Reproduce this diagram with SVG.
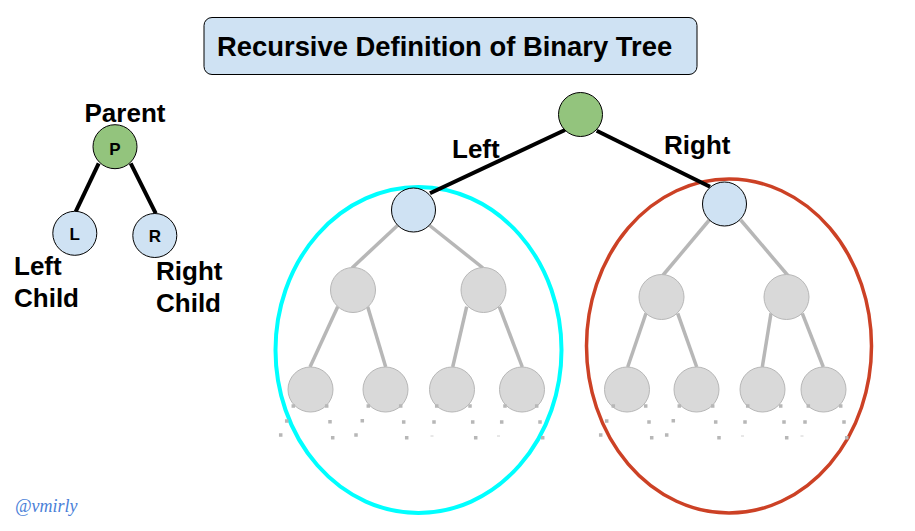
<svg xmlns="http://www.w3.org/2000/svg" width="915" height="531" viewBox="0 0 915 531">
<style>
.lbl{font-family:"Liberation Sans",Arial,sans-serif;font-weight:bold;font-size:26px;fill:#000}
.ttl{font-family:"Liberation Sans",Arial,sans-serif;font-weight:bold;font-size:27.4px;fill:#000}
.nl{font-family:"Liberation Sans",Arial,sans-serif;font-weight:bold;font-size:17px;fill:#000;text-anchor:middle}
.blk{stroke:#000;stroke-width:4;fill:none}
.gry{stroke:#b7b7b7;stroke-width:3.5;fill:none}
.gn{fill:#d9d9d9;stroke:#b7b7b7;stroke-width:1}
.bn{fill:#cfe2f3;stroke:#000;stroke-width:1}
.grn{fill:#93c47d;stroke:#000;stroke-width:1}
</style>
<rect width="915" height="531" fill="#fff"/>
<g id="title">
<rect x="204" y="17.5" width="493" height="57" rx="8" fill="#cfe2f3" stroke="#000" stroke-width="1"/>
<text class="ttl" x="217" y="56">Recursive Definition of Binary Tree</text>
</g>
<g id="ellipses" fill="none">
<ellipse id="left-subtree" cx="418.5" cy="350" rx="143" ry="163" stroke="#00ffff" stroke-width="4"/>
<ellipse id="right-subtree" cx="729" cy="346" rx="142.5" ry="167" stroke="#cc4125" stroke-width="3.5"/>
</g>
<g id="connectors">
<line class="blk" x1="98.7" y1="163.3" x2="75.7" y2="211.7"/>
<line class="blk" x1="130.7" y1="163.3" x2="155.7" y2="213.3"/>
<line class="blk" x1="565" y1="130" x2="430" y2="193.3"/>
<line class="blk" x1="596.7" y1="130.7" x2="710" y2="186.7"/>
<line class="gry" x1="398" y1="225" x2="352" y2="268"/>
<line class="gry" x1="429" y1="225" x2="483" y2="268"/>
<line class="gry" x1="337.7" y1="306.7" x2="310" y2="367"/>
<line class="gry" x1="367.7" y1="306.7" x2="385.7" y2="367"/>
<line class="gry" x1="466.7" y1="306.7" x2="452.7" y2="367"/>
<line class="gry" x1="499.3" y1="306.7" x2="522.3" y2="367"/>
<line class="gry" x1="709.3" y1="220" x2="662.3" y2="276"/>
<line class="gry" x1="740.7" y1="220" x2="788.3" y2="276"/>
<line class="gry" x1="646" y1="313.3" x2="627.7" y2="367"/>
<line class="gry" x1="677.7" y1="313.3" x2="696.7" y2="367"/>
<line class="gry" x1="771" y1="313.3" x2="762.3" y2="367"/>
<line class="gry" x1="802.3" y1="313.3" x2="823.3" y2="367"/>
</g>
<g id="mini-tree">
<g id="node-P"><circle class="grn" cx="115" cy="146.7" r="22"/><text class="nl" x="115" y="155">P</text></g>
<g id="node-L"><circle class="bn" cx="74.8" cy="233.3" r="22"/><text class="nl" x="74.8" y="240">L</text></g>
<g id="node-R"><circle class="bn" cx="154.8" cy="235.5" r="22"/><text class="nl" x="154.8" y="242.3">R</text></g>
<text class="lbl" x="125" y="122" text-anchor="middle">Parent</text>
<text class="lbl" x="14" y="275">Left</text>
<text class="lbl" x="14" y="307">Child</text>
<text class="lbl" x="156" y="280">Right</text>
<text class="lbl" x="156" y="312">Child</text>
</g>
<g id="big-tree">
<g id="root"><circle class="grn" cx="580.5" cy="114.5" r="22"/></g>
<text class="lbl" x="452" y="158">Left</text>
<text class="lbl" x="664" y="154">Right</text>
<g id="left-child"><circle class="bn" cx="413.5" cy="210" r="22"/></g>
<g id="right-child"><circle class="bn" cx="724.5" cy="204" r="22"/></g>
<g id="left-level2">
<circle class="gn" cx="353" cy="290" r="22.5"/>
<circle class="gn" cx="483.5" cy="290" r="22.5"/>
</g>
<g id="right-level2">
<circle class="gn" cx="661.5" cy="297" r="22.5"/>
<circle class="gn" cx="786.5" cy="297" r="22.5"/>
</g>
<g id="left-level3">
<circle class="gn" cx="310.5" cy="389.5" r="22.5"/>
<circle class="gn" cx="385.5" cy="389.5" r="22.5"/>
<circle class="gn" cx="452" cy="389.5" r="22.5"/>
<circle class="gn" cx="522" cy="389.5" r="22.5"/>
</g>
<g id="right-level3">
<circle class="gn" cx="627" cy="389.5" r="22.5"/>
<circle class="gn" cx="696.5" cy="389.5" r="22.5"/>
<circle class="gn" cx="762.5" cy="389.5" r="22.5"/>
<circle class="gn" cx="823.5" cy="389.5" r="22.5"/>
</g>
<g id="continuation-dots">
<path stroke="#b7b7b7" stroke-width="3.5" stroke-linecap="square" fill="none" d="
M293.3 406h0.01M286.7 421h0.01M280.7 435h0.01M326.7 406h0.01M330 421.7h0.01M332.7 437.7h0.01
M368.3 406h0.01M362.3 420.7h0.01M356 435h0.01M400.7 406h0.01M403.7 422h0.01M406.7 437.7h0.01
M436.7 406h0.01M434 422h0.01M470 406h0.01M472.7 422h0.01M475.7 437.7h0.01
M505 406h0.01M501.7 422h0.01M536.7 406h0.01M540 422h0.01M542.7 437.7h0.01
M613.3 406h0.01M606.7 421h0.01M600.7 435h0.01M645.7 406h0.01M649 422h0.01M651.7 437.7h0.01
M679.3 406h0.01M673.3 420.7h0.01M666.7 435h0.01M712.7 406h0.01M715.7 422h0.01M719 437.7h0.01
M747.7 406h0.01M745 422h0.01M780.7 406h0.01M784 422h0.01M786.7 437.7h0.01
M808.3 406h0.01M805 422h0.01M840.7 406h0.01M844 422h0.01M846.7 437.7h0.01"/>
<path stroke="#d0d0d0" stroke-width="1" fill="none" d="M430.5 436h3M497 436h3M741 436h3M800.5 436h3"/>
</g>
</g>
<text id="credit" x="15" y="512" font-family="'Liberation Serif','DejaVu Serif',serif" font-style="italic" font-size="18" fill="#4a7fd8">@vmirly</text>
</svg>
